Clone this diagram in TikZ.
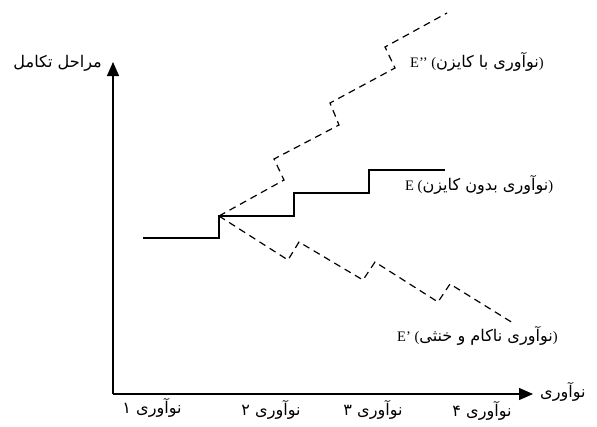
\documentclass[tikz,border=0pt]{standalone}
\usepackage{fontspec}
\setmainfont{Liberation Serif}
\newfontfamily\arabicfont[Script=Arabic,Scale=1.11]{DejaVu Sans}
\TeXXeTstate=1
\usetikzlibrary{arrows.meta}
\tikzset{
  solidpath/.style={line width=1.5pt},
  dashpath/.style={line width=1.2pt, dash pattern=on 7pt off 5pt},
  axisline/.style={line width=1.3pt, -{Triangle[length=14pt,width=12pt]}},
  lbl/.style={inner sep=0pt, font=\fontsize{14.5}{16}\selectfont},
}
\begin{document}
\begin{tikzpicture}[x=1pt,y=-1pt]
\useasboundingbox (0,0) rectangle (597,426);
% axes
\coordinate (O) at (113,394);
\coordinate (Ytop) at (113,62);
\coordinate (Xend) at (533,394);
\draw[axisline] (O) -- (Ytop);
\draw[axisline] (O) -- (Xend);
\node[lbl, anchor=east] (ylab) at (102,63) {\arabicfont\beginR مراحل تکامل\endR};
\node[lbl, anchor=west] (xlab) at (540,392) {\arabicfont\beginR نوآوری\endR};
% tick labels
\node[lbl] (t1) at (152,408) {\arabicfont\beginR نوآوری ۱\endR};
\node[lbl] (t2) at (271,410) {\arabicfont\beginR نوآوری ۲\endR};
\node[lbl] (t3) at (373,410) {\arabicfont\beginR نوآوری ۳\endR};
\node[lbl] (t4) at (482,411) {\arabicfont\beginR نوآوری ۴\endR};
% E solid staircase
\coordinate (s0) at (143,238);
\coordinate (s1) at (219,238);
\coordinate (P0) at (219,216);
\coordinate (s3) at (294,216);
\coordinate (s4) at (294,193);
\coordinate (s5) at (369,193);
\coordinate (s6) at (369,170);
\coordinate (s7) at (445,170);
\draw[solidpath] (s0) -- (s1) -- (P0) -- (s3) -- (s4) -- (s5) -- (s6) -- (s7);
% E'' dashed
\coordinate (u1) at (284,180);
\coordinate (u2) at (274,159);
\coordinate (u3) at (339,125);
\coordinate (u4) at (330,103);
\coordinate (u5) at (395,68);
\coordinate (u6) at (385,47);
\coordinate (u7) at (447,13);
\draw[dashpath] (P0) -- (u1) -- (u2) -- (u3) -- (u4) -- (u5) -- (u6) -- (u7);
% E' dashed
\coordinate (d1) at (288,260);
\coordinate (d2) at (299,242);
\coordinate (d3) at (363,280);
\coordinate (d4) at (375,262);
\coordinate (d5) at (438,302);
\coordinate (d6) at (450,284);
\coordinate (d7) at (513,323);
\draw[dashpath] (P0) -- (d1) -- (d2) -- (d3) -- (d4) -- (d5) -- (d6) -- (d7);
% curve labels
\node[lbl, anchor=west] (lEpp) at (410,62) {E’’ ({\arabicfont\beginR نوآوری با کایزن\endR})};
\node[lbl, anchor=west] (lE) at (405,185) {E ({\arabicfont\beginR نوآوری بدون کایزن\endR})};
\node[lbl, anchor=west] (lEp) at (397,336) {E’ ({\arabicfont\beginR نوآوری ناکام و خنثی\endR})};
\end{tikzpicture}
\end{document}
